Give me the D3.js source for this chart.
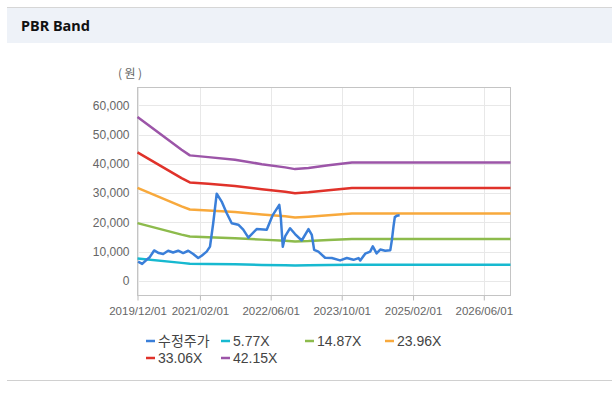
<!DOCTYPE html>
<html>
<head>
<meta charset="utf-8">
<script src="https://cdn.jsdelivr.net/npm/d3@7"></script>
<style>
body { margin: 0; background: #fff; }
</style>
</head>
<body>
<div id="chart"></div>
<script>
let width = 612;
let height = 393;

// price (수정주가)
let priceDates = ["2019-12-05","2020-01-02","2020-02-01","2020-02-23","2020-03-24","2020-04-25","2020-05-25",
  "2020-06-28","2020-08-01","2020-09-05","2020-10-09","2020-11-13","2020-12-17","2021-01-20","2021-02-13",
  "2021-03-19","2021-04-11","2021-05-03","2021-05-27","2021-06-30","2021-08-03","2021-09-07","2021-10-22",
  "2021-11-25","2021-12-30","2022-02-25","2022-05-05","2022-06-15","2022-07-30","2022-08-09","2022-08-23",
  "2022-09-08","2022-10-12","2022-11-15","2022-12-31","2023-02-15","2023-03-10","2023-03-26","2023-04-24",
  "2023-06-09","2023-07-25","2023-09-20","2023-11-05","2023-12-21","2024-01-24","2024-02-05","2024-03-10",
  "2024-04-13","2024-05-01","2024-05-27","2024-06-21","2024-07-25","2024-08-29","2024-09-09","2024-09-20",
  "2024-09-29","2024-10-14","2024-11-01"];
let priceValues = [6600,5800,7200,8100,10400,9500,9200,
  10300,9700,10300,9500,10300,9200,7800,8600,
  10000,11700,19700,29800,27100,23200,19700,19200,
  17500,14800,17700,17500,22500,26000,22000,11700,
  15200,18000,16000,13800,17700,15700,10600,10000,
  7900,7800,7000,7800,7200,7800,7000,9300,
  10000,11800,9400,10700,10300,10500,14000,18600,
  21800,22300,22400];

// PBR bands
let bandDates = ["2019-12-01","2020-09-28","2020-11-24","2021-03-30","2021-09-29","2022-04-01",
  "2022-09-08","2022-11-15","2023-02-15","2023-07-02","2023-12-10","2026-12-01"];
let band577 = [7650,6150,5850,5800,5650,5450,5300,5250,5300,5400,5550,5550];
let band1487 = [19750,15800,15150,14900,14600,14100,13700,13500,13600,13950,14300,14300];
let band2396 = [31800,25450,24400,24050,23550,22700,22050,21700,21950,22450,23000,23000];
let band3306 = [43900,35100,33650,33200,32450,31300,30450,29950,30300,31000,31750,31750];
let band4215 = [56000,44800,42900,42300,41400,39900,38800,38200,38600,39500,40500,40500];

let seriesNames = ["수정주가","5.77X","14.87X","23.96X","33.06X","42.15X"];
let seriesColors = ["#3a7fd9","#17b9d0","#8dbb4c","#f8a93c","#e0322a","#9c55a8"];

let xTickLabels = ["2019/12/01","2021/02/01","2022/06/01","2023/10/01","2025/02/01","2026/06/01"];
let yTicks = [0,10000,20000,30000,40000,50000,60000];

let parse = d3.timeParse("%Y-%m-%d");
let tickParse = d3.timeParse("%Y/%m/%d");

let plot = {left: 137.5, top: 87.5, right: 510.5, bottom: 295.5};

let svg = d3.select("#chart")
  .append("svg")
  .attr("width", width)
  .attr("height", height)
  .style("font-family", "'Liberation Sans', Arial, sans-serif");

// panel header
svg.append("rect").attr("x", 7).attr("y", 7).attr("width", width - 7).attr("height", 36).attr("fill", "#eef2f8");
svg.append("line").attr("x1", 7).attr("x2", width).attr("y1", 7.5).attr("y2", 7.5).attr("stroke", "#d6d6d6");
svg.append("line").attr("x1", 7).attr("x2", width).attr("y1", 380.5).attr("y2", 380.5).attr("stroke", "#d0d0d0");
svg.append("text").attr("x", 21).attr("y", 31).text("PBR Band")
  .style("font-family", "'Noto Sans', 'DejaVu Sans', sans-serif")
  .style("font-weight", "bold").style("font-size", "14.5px").attr("fill", "#111");

let x = d3.scaleTime()
  .domain([parse("2019-12-01"), parse("2026-12-01")])
  .range([plot.left, plot.right]);

let y = d3.scaleLinear()
  .domain([-5000, 66100])
  .range([plot.bottom, plot.top]);

let xTicks = xTickLabels.map(d => tickParse(d));

// grid
svg.append("g").selectAll("line").data(yTicks).enter().append("line")
  .attr("x1", plot.left).attr("x2", plot.right)
  .attr("y1", d => Math.round(y(d)) + 0.5).attr("y2", d => Math.round(y(d)) + 0.5)
  .attr("stroke", "#e8e8e8");
svg.append("g").selectAll("line").data(xTicks).enter().append("line")
  .attr("x1", d => Math.round(x(d)) + 0.5).attr("x2", d => Math.round(x(d)) + 0.5)
  .attr("y1", plot.top).attr("y2", plot.bottom)
  .attr("stroke", "#e8e8e8");

// axes
let xAxis = d3.axisBottom(x)
  .tickValues(xTicks)
  .tickFormat(d3.timeFormat("%Y/%m/%d"))
  .tickSize(5)
  .tickPadding(6);

let yAxis = d3.axisLeft(y)
  .tickValues(yTicks)
  .tickFormat(d3.format(","))
  .tickSize(0)
  .tickPadding(8);

let gx = svg.append("g").attr("transform", `translate(0,${plot.bottom})`).call(xAxis);
let gy = svg.append("g").attr("transform", `translate(${plot.left},0)`).call(yAxis);
gx.select(".domain").remove();
gy.select(".domain").remove();
gx.selectAll("line").attr("stroke", "#bbb");
gx.selectAll("text").attr("fill", "#666").style("font-size", "11.5px");
gy.selectAll("text").attr("fill", "#666").style("font-size", "12px");

// plot border
svg.append("rect")
  .attr("x", plot.left).attr("y", plot.top)
  .attr("width", plot.right - plot.left).attr("height", plot.bottom - plot.top)
  .attr("fill", "none").attr("stroke", "#c4c4c4");

svg.append("text").attr("x", 118).attr("y", 78).text("(원)")
  .attr("fill", "#666").style("font-size", "12px").style("letter-spacing", "2.5px")
  .style("font-family", "'Noto Sans CJK KR', sans-serif");

// lines
let line = d3.line()
  .x(d => x(d.date))
  .y(d => y(d.value));

let bandSeries = [band577, band1487, band2396, band3306, band4215];
let series = [priceValues.map((v, i) => ({date: parse(priceDates[i]), value: v}))];
bandSeries.forEach(function (b) {
  series.push(b.map((v, i) => ({date: parse(bandDates[i]), value: v})));
});

// bands first, price on top
let drawOrder = [1, 2, 3, 4, 5, 0];
drawOrder.forEach(function (k) {
  svg.append("path")
    .datum(series[k])
    .attr("d", line)
    .attr("fill", "none")
    .attr("stroke", seriesColors[k])
    .attr("stroke-width", 2.5)
    .attr("stroke-linejoin", "round");
});

// legend
let legendCols = [146, 221, 305, 385];
let legendRows = [341, 358];
seriesNames.forEach(function (name, i) {
  let lx = legendCols[i % 4];
  let ly = legendRows[Math.floor(i / 4)];
  svg.append("line")
    .attr("x1", lx).attr("x2", lx + 9)
    .attr("y1", ly).attr("y2", ly)
    .attr("stroke", seriesColors[i]).attr("stroke-width", 2.5);
  svg.append("text")
    .attr("x", lx + 12).attr("y", ly)
    .attr("dy", "0.35em")
    .text(name)
    .attr("fill", "#444")
    .style("font-size", "14px")
    .style("font-family", i === 0 ? "'Noto Sans CJK KR', sans-serif" : "'Liberation Sans', Arial, sans-serif");
});
</script>
</body>
</html>
